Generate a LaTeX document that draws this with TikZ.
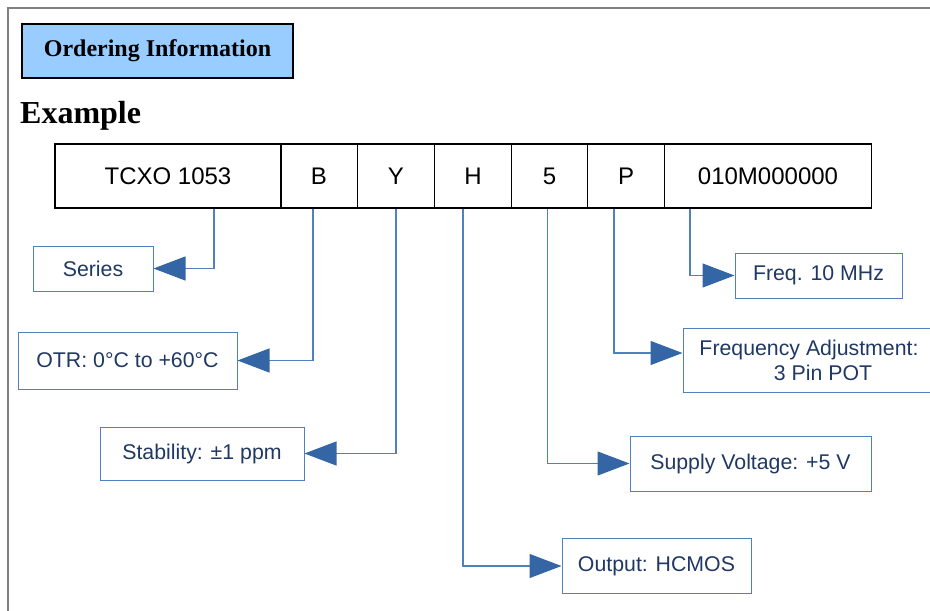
\documentclass[tikz,border=0pt]{standalone}
\usepackage{fontspec}
\setmainfont{Liberation Serif}
\setsansfont{Liberation Sans}
\usetikzlibrary{arrows.meta}

\definecolor{framegray}{RGB}{128,128,128}
\definecolor{headblue}{RGB}{153,204,255}
\definecolor{linkblue}{RGB}{79,129,189}
\definecolor{tipblue}{RGB}{52,101,164}
\definecolor{textnavy}{RGB}{31,56,100}

\tikzset{
  codebox/.style={draw=black,line width=1.3pt,minimum height=64pt,inner sep=0pt,
    font=\sffamily\fontsize{24}{28}\selectfont},
  infobox/.style={draw=linkblue,line width=1pt,inner sep=0pt,align=center,text=textnavy,
    font=\sffamily\fontsize{21.3}{25}\selectfont},
  link/.style={draw=linkblue,line width=1.2pt,
    -{Triangle[length=32pt,width=24pt,color=tipblue,fill=tipblue]}}
}

\begin{document}
\begin{tikzpicture}[x=1pt,y=-1pt]
  \useasboundingbox (0,0) rectangle (930,611);

  % frame and heading
  \draw [framegray,line width=2pt] (8,611) -- (8,8) -- (935,8);
  \node [draw=black,line width=1.6pt,fill=headblue,minimum width=271pt,minimum height=54pt,
         font=\bfseries\fontsize{24}{28}\selectfont] (head) at (157.5,51) {Ordering Information};
  \node [anchor=base west,inner sep=0pt,font=\bfseries\fontsize{32}{36}\selectfont]
        (example) at (20,123) {Example};

  % part number
  \node [codebox,minimum width=226pt] (tcxo)  at (168,176)   {TCXO 1053};
  \node [codebox,minimum width=77pt]  (otrB)  at (319,176)   {B};
  \node [codebox,minimum width=77pt]  (stabY) at (396,176)   {Y};
  \node [codebox,minimum width=77pt]  (outH)  at (473,176)   {H};
  \node [codebox,minimum width=76pt]  (volt5) at (549.5,176) {5};
  \node [codebox,minimum width=77pt]  (adjP)  at (626,176)   {P};
  \node [codebox,minimum width=207pt] (freq)  at (768,176)   {010M000000};

  % descriptions
  \node [infobox,minimum width=120pt,minimum height=45pt] (series) at (93,268.5)   {Series};
  \node [infobox,minimum width=219pt,minimum height=57pt] (otr)    at (127.5,360.5) {OTR: 0°C to +60°C};
  \node [infobox,minimum width=204pt,minimum height=53pt] (stab)   at (202,453.5)   {Stability: ±1 ppm};
  \node [infobox,minimum width=167pt,minimum height=45pt] (mhz)    at (818.5,275.5) {Freq. 10 MHz};
  \node [infobox,minimum width=252pt,minimum height=64pt] (adj)    at (809,360)
        {Frequency Adjustment:\\\hspace*{28pt}3 Pin POT};
  \node [infobox,minimum width=241pt,minimum height=55pt] (volt)   at (750.5,463.5) {Supply Voltage: +5 V};
  \node [infobox,minimum width=189pt,minimum height=55pt] (out)    at (656.5,566) {Output: HCMOS};

  % connectors
  \draw [link] ([xshift=46pt]tcxo.south)  |- (series.east);
  \draw [link] ([xshift=-6pt]otrB.south)  |- (otr.east);
  \draw [link] (stabY.south)              |- (stab.east);
  \draw [link] ([xshift=-10pt]outH.south) |- (out.west);
  \draw [link] ([xshift=-2pt]volt5.south) |- (volt.west);
  \draw [link] ([xshift=-12pt]adjP.south) |- ([yshift=7pt]adj.west);
  \draw [link] ([xshift=-78pt]freq.south) |- (mhz.west);
\end{tikzpicture}
\end{document}
